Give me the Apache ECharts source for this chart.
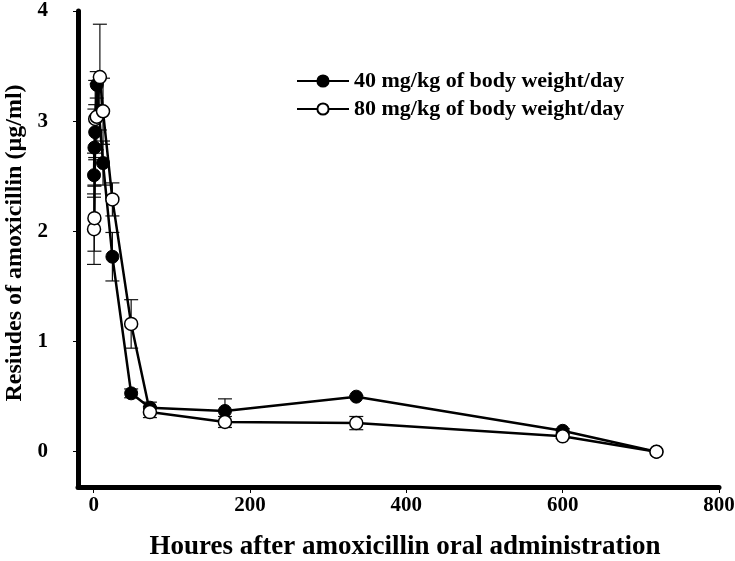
<!DOCTYPE html>
<html><head><meta charset="utf-8">
<script src="https://cdn.jsdelivr.net/npm/echarts@6/dist/echarts.min.js"></script>
<style>html,body{margin:0;padding:0;background:#fff}#c{width:735px;height:561px}</style>
</head><body><div id="c"></div>
<script>
const seriesNames = ['40 mg/kg of body weight/day', '80 mg/kg of body weight/day'];
const hours40 = [0.5, 1, 2, 4, 12, 24, 48, 72, 168, 336, 600, 720];
const resid40 = [2.51, 2.76, 2.90, 3.33, 2.62, 1.77, 0.53, 0.40, 0.37, 0.50, 0.19, 0.00];
const err40   = [0.20, 0.35, 0.25, 0.12, 0.20, 0.22, 0.04, 0.05, 0.11, 0.01, 0.02, 0.00];
const hours80 = [0.5, 1, 2, 4, 8, 12, 24, 48, 72, 168, 336, 600, 720];
const resid80 = [2.02, 2.12, 3.02, 3.04, 3.40, 3.09, 2.29, 1.16, 0.36, 0.27, 0.26, 0.14, 0.00];
const err80   = [0.32, 0.30, 0.35, 0.30, 0.48, 0.30, 0.15, 0.22, 0.05, 0.05, 0.06, 0.02, 0.00];
const xTicks = [0, 200, 400, 600, 800];
const yTicks = [0, 1, 2, 3, 4];
const xTitle = 'Houres after amoxicillin oral administration';
const yTitle = 'Resiudes of amoxicillin (µg/ml)';

const FONT = "'Liberation Serif', 'Times New Roman', serif";
const zip = (a, b) => a.map((v, i) => [v, b[i]]);
const zip3 = (a, b, c) => a.map((v, i) => [v, b[i], c[i]]);

function errRender(params, api) {
  const x = api.value(0), y = api.value(1), e = api.value(2);
  if (!e) return null;
  const t = api.coord([x, y + e]), b = api.coord([x, y - e]);
  const h = 7;
  const st = { stroke: '#111', lineWidth: 1.2 };
  return { type: 'group', children: [
    { type: 'line', shape: { x1: t[0], y1: t[1], x2: b[0], y2: b[1] }, style: st },
    { type: 'line', shape: { x1: t[0] - h, y1: t[1], x2: t[0] + h, y2: t[1] }, style: st },
    { type: 'line', shape: { x1: b[0] - h, y1: b[1], x2: b[0] + h, y2: b[1] }, style: st }
  ]};
}

const chart = echarts.init(document.getElementById('c'), null, { renderer: 'canvas' });
chart.setOption({
  animation: false,
  backgroundColor: '#fff',
  grid: { left: 78, right: 16, top: 11, bottom: 74, containLabel: false, outerBoundsMode: 'none' },
  legend: {
    data: seriesNames, orient: 'vertical', left: 291, top: 65, itemGap: 6,
    itemWidth: 52, itemHeight: 14,
    textStyle: { fontFamily: FONT, fontWeight: 'bold', fontSize: 22, lineHeight: 22, color: '#000' }
  },
  xAxis: {
    type: 'value', min: -20, max: 800,
    axisLine: { onZero: false, lineStyle: { color: '#000', width: 5 } },
    axisTick: { customValues: xTicks, length: 6, lineStyle: { color: '#000', width: 1 } },
    axisLabel: { customValues: xTicks, margin: 8, fontFamily: FONT, fontWeight: 'bold', fontSize: 21, color: '#000' },
    splitLine: { show: false },
    name: xTitle, nameLocation: 'middle', nameGap: 47,
    nameTextStyle: { fontFamily: FONT, fontWeight: 'bold', fontSize: 27, color: '#000', padding: [0, 0, 0, 13] }
  },
  yAxis: {
    type: 'value', min: -0.32, max: 4,
    axisLine: { onZero: false, lineStyle: { color: '#000', width: 5 } },
    axisTick: { customValues: yTicks, length: 5, lineStyle: { color: '#000', width: 1 } },
    axisLabel: { customValues: yTicks, margin: 30, fontFamily: FONT, fontWeight: 'bold', fontSize: 21, color: '#000' },
    splitLine: { show: false },
    name: yTitle, nameLocation: 'middle', nameGap: 48, nameRotate: 90,
    nameTextStyle: { fontFamily: FONT, fontWeight: 'bold', fontSize: 24, color: '#000', padding: [0, 0, 0, 12] }
  },
  series: [
    { type: 'custom', name: 'err40', renderItem: errRender, data: zip3(hours40, resid40, err40), z: 1, silent: true },
    { type: 'custom', name: 'err80', renderItem: errRender, data: zip3(hours80, resid80, err80), z: 1, silent: true },
    { type: 'line', name: seriesNames[0], data: zip(hours40, resid40), z: 3,
      symbol: 'circle', symbolSize: 13, showAllSymbol: true,
      lineStyle: { color: '#000', width: 2.5 },
      itemStyle: { color: '#000', borderColor: '#000', borderWidth: 1 } },
    { type: 'line', name: seriesNames[1], data: zip(hours80, resid80), z: 4,
      symbol: 'circle', symbolSize: 13, showAllSymbol: true,
      lineStyle: { color: '#000', width: 2.5 },
      itemStyle: { color: '#fff', borderColor: '#000', borderWidth: 1.5 } }
  ]
});
</script>
</body></html>
